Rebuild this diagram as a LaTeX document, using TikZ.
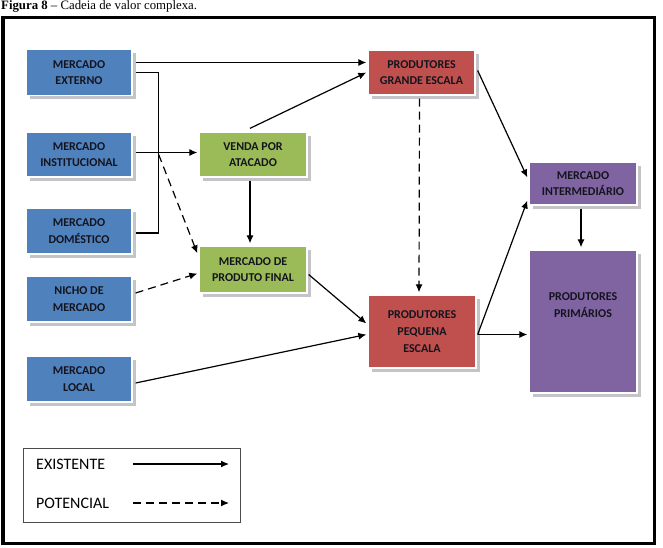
\documentclass[tikz,border=0pt]{standalone}
\usepackage{fontspec}
\setmainfont{Carlito}[BoldFont={Carlito Bold}]
\newfontfamily\capfont{Liberation Serif}
\usetikzlibrary{arrows.meta,calc,shadows}
\definecolor{cblue}{RGB}{79,129,189}
\definecolor{cgreen}{RGB}{155,187,89}
\definecolor{cred}{RGB}{192,80,77}
\definecolor{cpurple}{RGB}{128,100,162}
\definecolor{ctext}{RGB}{20,20,30}
\definecolor{cshadow}{RGB}{195,195,200}
\tikzset{
  box/.style={rectangle, draw=white, line width=1.3pt, inner sep=0pt, align=center,
    text=ctext, font=\fontsize{12}{16.7}\selectfont\bfseries,
    drop shadow={shadow xshift=3.5pt, shadow yshift=-3.5pt, fill=cshadow, opacity=1}},
  bluebox/.style={box, fill=cblue, minimum width=106pt, minimum height=46pt},
  greenbox/.style={box, fill=cgreen, minimum width=108pt, minimum height=46pt},
  redbox/.style={box, fill=cred},
  purplebox/.style={box, fill=cpurple, minimum width=108pt},
  arr/.style={line width=1.2pt, -{Latex[length=8pt,width=7pt]}},
  darr/.style={arr, dash pattern=on 8pt off 5pt},
  plain/.style={line width=1.2pt},
  legtext/.style={anchor=west, inner sep=0pt, font=\fontsize{16}{18}\selectfont, text=black}
}
\begin{document}
\begin{tikzpicture}[x=1pt,y=-1pt]
\useasboundingbox (0,0) rectangle (663,547);
% caption (cut at top)
\node[anchor=base west, inner sep=0pt, font=\capfont\fontsize{12.8}{14}\selectfont] (cap) at (1,9.5) {\textbf{Figura 8} – Cadeia de valor complexa.};
% frame
\draw[line width=3.5pt] (3,17.5) rectangle (654.5,543.5);

% left column
\node[bluebox] (ext) at (79,72.5) {MERCADO\\EXTERNO};
\node[bluebox, minimum height=45pt] (inst) at (79,154.5) {MERCADO\\INSTITUCIONAL};
\node[bluebox] (dom) at (79,231) {MERCADO\\DOMÉSTICO};
\node[bluebox] (nicho) at (79,299) {NICHO DE\\MERCADO};
\node[bluebox] (local) at (79,379) {MERCADO\\LOCAL};
% green
\node[greenbox, minimum height=45pt] (venda) at (253,154.5) {VENDA POR\\ATACADO};
\node[greenbox, minimum height=47pt] (final) at (253,269.5) {MERCADO DE\\PRODUTO FINAL};
% red
\node[redbox, minimum width=107pt, minimum height=45pt] (grande) at (421.5,72.5) {PRODUTORES\\GRANDE ESCALA};
\node[redbox, minimum width=108pt, minimum height=73pt] (pequena) at (422,331.5) {PRODUTORES\\PEQUENA\\ESCALA};
% purple
\node[purplebox, minimum height=43pt] (inter) at (583,183.5) {MERCADO\\INTERMEDIÁRIO};
\node[purplebox, minimum height=143pt,
  label={[font=\fontsize{12}{16.7}\selectfont\bfseries, text=ctext, align=center, yshift=16.5pt]center:PRODUTORES\\PRIMÁRIOS}] (prim) at (583,321.5) {};

% connectors
\draw[arr] ($(ext.east)+(3,-10)$) -- ($(grande.west)+(-1,-10)$);
\draw[plain] ($(ext.east)+(3,0)$) -| ($(dom.east)+(26,2)$) -- ($(dom.east)+(3,2)$);
\draw[arr] ($(inst.east)+(3,-2)$) -- ($(venda.west)+(-1,-2)$);
\draw[darr] ($(inst.east)+(26,0)$) -- ($(final.north west)+(-1,8)$);
\draw[arr] ($(venda.north)+(-3,-3)$) -- ($(grande.west)+(-1,0)$);
\draw[arr] ($(venda.south)+(-3,3)$) -- ($(final.north)+(-3,-2)$);
\draw[darr] ($(nicho.east)+(3,-6)$) -- ($(final.west)+(-1,4)$);
\draw[arr] ($(final.east)+(1,5)$) -- ($(pequena.west)+(-1,-8)$);
\draw[arr] ($(local.east)+(3,4)$) -- ($(pequena.west)+(-1,3)$);
\draw[darr] ($(grande.south)+(-2,3)$) -- ($(pequena.north)+(-3,-2)$);
\draw[arr] ($(grande.east)+(2,-2)$) -- ($(inter.west)+(-1,-6)$);
\draw[arr] ($(pequena.east)+(1,3)$) -- ($(inter.west)+(-1,17)$);
\draw[arr] ($(pequena.east)+(1,3)$) -- ($(prim.west)+(-1,13)$);
\draw[arr] ($(inter.south)+(-2,3)$) -- ($(prim.north)+(-2,-2)$);

% legend
\node[draw=black!70, line width=0.8pt, minimum width=217pt, minimum height=74pt, inner sep=0pt] (leg) at (131.5,485) {};
\node[legtext] (lex) at (36,464) {EXISTENTE};
\node[legtext] (lpo) at (36,503) {POTENCIAL};
\coordinate (a1s) at (133,464);
\coordinate (a1e) at (229,464);
\coordinate (a2s) at (133,503);
\coordinate (a2e) at (229,503);
\draw[arr] (a1s) -- (a1e);
\draw[darr] (a2s) -- (a2e);
\end{tikzpicture}
\end{document}
